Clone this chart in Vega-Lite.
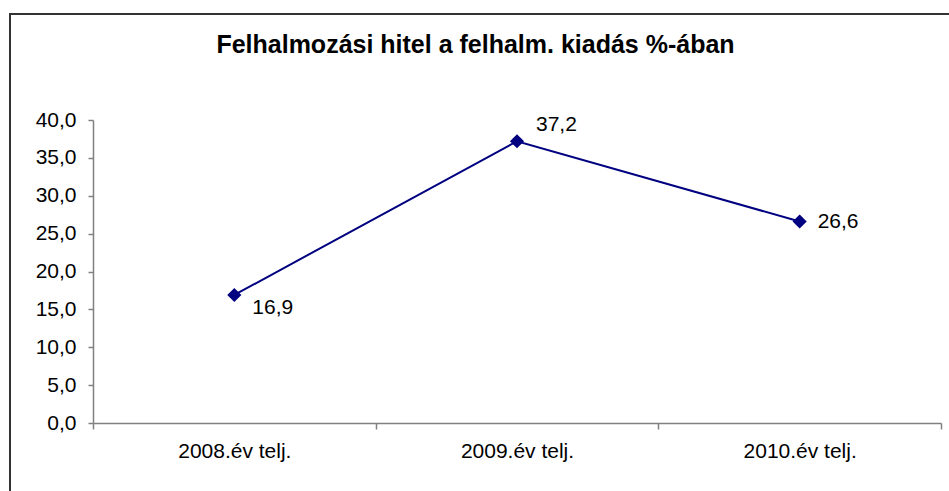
{
  "$schema": "https://vega.github.io/schema/vega-lite/v6.json",
  "autosize": {"type": "none"},
  "padding": {"left": 10, "top": 14, "right": 0, "bottom": 0},
  "width": 939,
  "height": 477,
  "background": "white",
  "config": {
    "view": {"stroke": "#333333", "strokeWidth": 2, "strokeDash": [939, 1416, 477, 1]},
    "font": "Liberation Sans"
  },
  "title": {
    "text": "Felhalmozási hitel a felhalm. kiadás %-ában",
    "font": "Liberation Sans",
    "fontSize": 25,
    "fontWeight": "bold",
    "color": "black",
    "anchor": "middle",
    "frame": "group",
    "offset": -64,
    "baseline": "alphabetic",
    "dx": -4,
    "limit": 0
  },
  "data": {
    "values": [
      {"ev": "2008.év telj.", "v": 16.9},
      {"ev": "2009.év telj.", "v": 37.2},
      {"ev": "2010.év telj.", "v": 26.6}
    ]
  },
  "encoding": {
    "x": {
      "field": "ev",
      "type": "nominal",
      "sort": null,
      "scale": {"type": "band", "range": [83, 931], "paddingInner": 0, "paddingOuter": 0},
      "axis": {
        "title": null,
        "offset": -68,
        "tickBand": "extent",
        "tickSize": 6,
        "labelPadding": 11,
        "labelAngle": 0,
        "labelFont": "Liberation Sans",
        "labelFontSize": 21,
        "labelColor": "black",
        "domainColor": "#808080",
        "domainWidth": 1.5,
        "tickColor": "#808080",
        "tickWidth": 1.5,
        "grid": false
      }
    },
    "y": {
      "field": "v",
      "type": "quantitative",
      "scale": {"domain": [0, 40], "range": [409, 106], "nice": false, "zero": true},
      "axis": {
        "title": null,
        "offset": -83,
        "values": [0, 5, 10, 15, 20, 25, 30, 35, 40],
        "labelExpr": "replace(format(datum.value, '.1f'), '.', ',')",
        "tickSize": 5,
        "labelPadding": 12,
        "labelFont": "Liberation Sans",
        "labelFontSize": 21,
        "labelColor": "black",
        "domainColor": "#808080",
        "domainWidth": 1.5,
        "tickColor": "#808080",
        "tickWidth": 1.5,
        "grid": false
      }
    }
  },
  "layer": [
    {"mark": {"type": "line", "color": "#000080", "strokeWidth": 2}},
    {"mark": {"type": "point", "shape": "diamond", "filled": true, "color": "#000080", "size": 200, "opacity": 1}},
    {
      "transform": [
        {"filter": "datum.ev == '2008.év telj.'"},
        {"calculate": "replace(format(datum.v, '.1f'), '.', ',')", "as": "lbl"}
      ],
      "mark": {"type": "text", "align": "left", "baseline": "middle", "dx": 18, "dy": 13, "fontSize": 21, "font": "Liberation Sans", "color": "black"},
      "encoding": {"text": {"field": "lbl"}}
    },
    {
      "transform": [
        {"filter": "datum.ev == '2009.év telj.'"},
        {"calculate": "replace(format(datum.v, '.1f'), '.', ',')", "as": "lbl"}
      ],
      "mark": {"type": "text", "align": "left", "baseline": "middle", "dx": 19, "dy": -16, "fontSize": 21, "font": "Liberation Sans", "color": "black"},
      "encoding": {"text": {"field": "lbl"}}
    },
    {
      "transform": [
        {"filter": "datum.ev == '2010.év telj.'"},
        {"calculate": "replace(format(datum.v, '.1f'), '.', ',')", "as": "lbl"}
      ],
      "mark": {"type": "text", "align": "left", "baseline": "middle", "dx": 18, "dy": 0, "fontSize": 21, "font": "Liberation Sans", "color": "black"},
      "encoding": {"text": {"field": "lbl"}}
    }
  ]
}
